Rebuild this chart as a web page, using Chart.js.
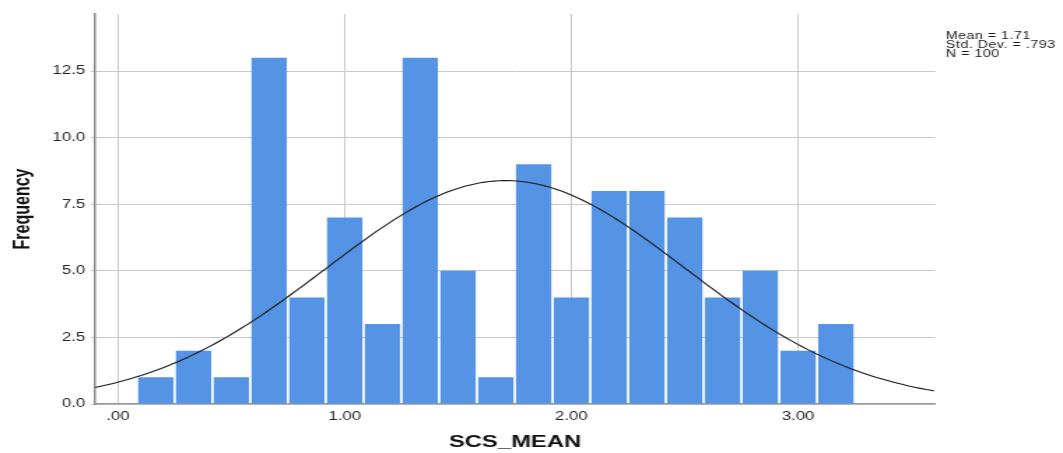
<!DOCTYPE html>
<html>
<head>
<meta charset="utf-8">
<title>SCS_MEAN histogram</title>
<script src="https://cdn.jsdelivr.net/npm/chart.js@4.4.1/dist/chart.umd.min.js"></script>
<style>
  html, body { margin: 0; padding: 0; background: #ffffff; overflow: hidden; }
  /* The chart is laid out on a narrower canvas and widened horizontally,
     giving the broad, stretched lettering of the statistics-package export. */
  #frame { width: 760px; height: 453px; transform: scaleX(1.39868); transform-origin: 0 0; }
  canvas { display: block; }
</style>
</head>
<body>
<div id="frame"><canvas id="hist" width="760" height="453"></canvas></div>
<script>
// Histogram bins (midpoints, bin width 1/6) and their counts
const binMidpoints = [0.1667, 0.3333, 0.5000, 0.6667, 0.8333, 1.0000, 1.1667, 1.3333, 1.5000, 1.6667,
                      1.8333, 2.0000, 2.1667, 2.3333, 2.5000, 2.6667, 2.8333, 3.0000, 3.1667];
const frequencies  = [1, 2, 1, 13, 4, 7, 3, 13, 5, 1, 9, 4, 8, 8, 7, 4, 5, 2, 3];

// Summary statistics shown beside the plot; the normal curve is drawn from them
const mean = 1.71;
const stdDev = 0.793;
const sampleSize = 100;
const binWidth = 1 / 6;
const statLines = ['Mean = 1.71', 'Std. Dev. = .793', 'N = 100'];

// Axis ticks
const xTickValues = [0, 1, 2, 3];
const xTickLabels = ['.00', '1.00', '2.00', '3.00'];
const yTickValues = [0, 2.5, 5, 7.5, 10, 12.5];
const yTickLabels = ['0.0', '2.5', '5.0', '7.5', '10.0', '12.5'];

const xMin = -0.1015, xMax = 3.604;
const yMax = 14.64;

// Fitted normal curve, scaled to counts per bin
const curvePoints = [];
for (let x = xMin; x <= xMax + 1e-9; x += 0.02) {
  const z = (x - mean) / stdDev;
  const density = Math.exp(-0.5 * z * z) / (stdDev * Math.sqrt(2 * Math.PI));
  curvePoints.push({ x: x, y: sampleSize * binWidth * density });
}

const barPoints = binMidpoints.map((m, i) => ({ x: m, y: frequencies[i] }));

Chart.defaults.font.family = '"Liberation Sans", Arial, sans-serif';
Chart.defaults.color = '#262626';

// Canvas-space layout of the plotting area
const plotLeft = 67.9, plotRight = 668.5, plotTop = 14, plotBottom = 404;
const canvasW = 760, canvasH = 453;

const statsBox = {
  id: 'statsBox',
  afterDraw(chart) {
    const ctx = chart.ctx;
    ctx.save();
    ctx.font = '10px "Liberation Sans", Arial, sans-serif';
    ctx.letterSpacing = '0.45px';
    ctx.fillStyle = '#161616';
    ctx.textAlign = 'left';
    ctx.textBaseline = 'alphabetic';
    statLines.forEach((t, i) => ctx.fillText(t, 676.3, 39.4 + i * 9.0));
    ctx.restore();
  }
};

new Chart(document.getElementById('hist'), {
  type: 'bar',
  data: {
    datasets: [
      {
        type: 'line',
        data: curvePoints,
        borderColor: '#1c1c1c',
        borderWidth: 1.1,
        pointRadius: 0,
        tension: 0,
        fill: false,
        order: 0
      },
      {
        type: 'bar',
        data: barPoints,
        backgroundColor: '#5594e4',
        borderWidth: 0,
        barPercentage: 0.935,
        categoryPercentage: 1.0,
        order: 1
      }
    ]
  },
  options: {
    responsive: false,
    animation: false,
    layout: { padding: { left: 0, right: canvasW - plotRight, top: plotTop, bottom: 0 } },
    plugins: {
      legend: { display: false },
      tooltip: { enabled: false }
    },
    scales: {
      x: {
        type: 'linear',
        min: xMin,
        max: xMax,
        offset: false,
        grid: { color: '#c9c9c9', lineWidth: 1, drawTicks: false, offset: false },
        border: { display: true, color: '#9a9a9a', width: 1.5 },
        afterBuildTicks(scale) { scale.ticks = xTickValues.map(v => ({ value: v })); },
        ticks: {
          padding: 5,
          font: { size: 12 },
          color: '#262626',
          maxRotation: 0,
          callback: (v) => {
            const i = xTickValues.indexOf(v);
            return i >= 0 ? xTickLabels[i] : '';
          }
        },
        title: {
          display: true,
          text: 'SCS_MEAN',
          font: { size: 17, weight: 'bold' },
          color: '#111111',
          padding: { top: 0, bottom: 0 }
        },
        afterFit(scale) { scale.height = canvasH - plotBottom; }
      },
      y: {
        type: 'linear',
        min: 0,
        max: yMax,
        grid: { color: '#c9c9c9', lineWidth: 1, drawTicks: true, tickLength: 3 },
        border: { display: true, color: '#8a8a8a', width: 1.5 },
        afterBuildTicks(scale) { scale.ticks = yTickValues.map(v => ({ value: v })); },
        ticks: {
          padding: 4,
          font: { size: 12 },
          color: '#262626',
          callback: (v) => {
            const i = yTickValues.indexOf(v);
            return i >= 0 ? yTickLabels[i] : '';
          }
        },
        title: {
          display: true,
          text: 'Frequency',
          font: { size: 16, weight: 'bold' },
          color: '#111111',
          padding: { top: 6.5, bottom: 0 }
        },
        afterFit(scale) { scale.width = plotLeft; }
      }
    }
  },
  plugins: [statsBox]
});
</script>
</body>
</html>
